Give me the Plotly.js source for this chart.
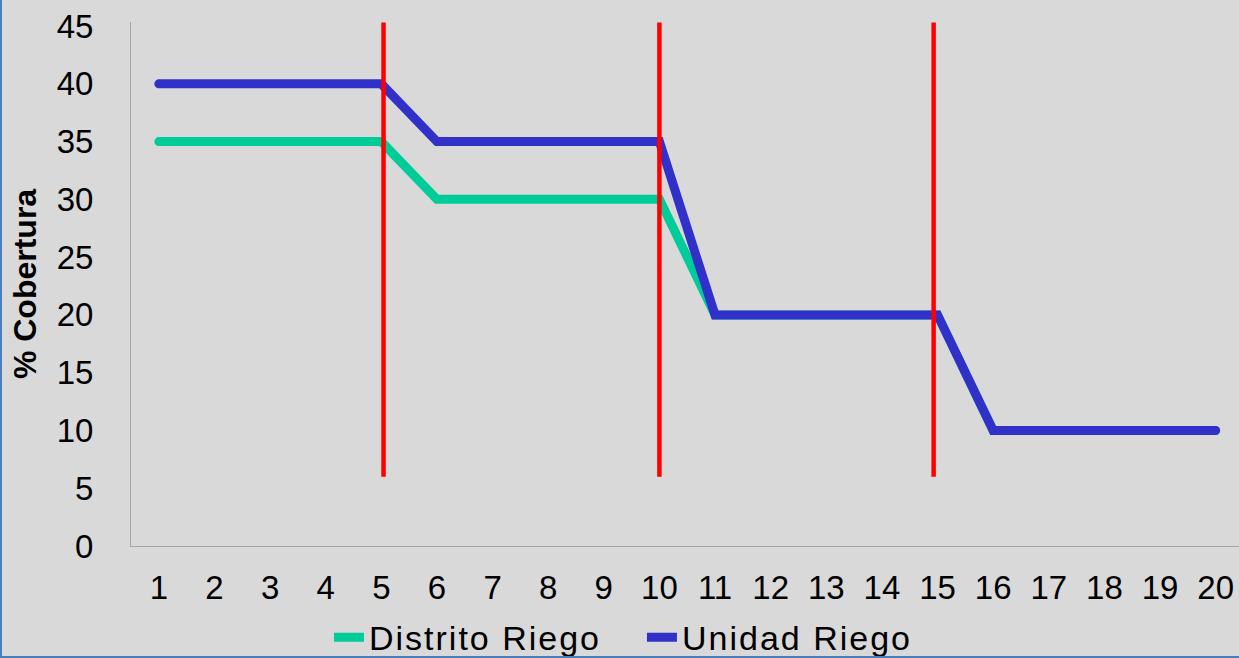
<!DOCTYPE html>
<html>
<head>
<meta charset="utf-8">
<script src="https://cdn.plot.ly/plotly-3.0.1.min.js"></script>
<style>
  html, body { margin: 0; padding: 0; background: #d9d9d9; }
  #wrap { position: relative; width: 1239px; height: 658px; overflow: hidden; }
  #chart { width: 1239px; height: 658px; }
  #frame { position: absolute; left: 0; top: 0; width: 1239px; height: 658px; box-sizing: border-box;
           border-left: 2px solid #4a7ebb; border-bottom: 2px solid #4a7ebb; pointer-events: none; }
  .scatterlayer path.js-line { stroke-linecap: round; }
  .legendtext { letter-spacing: 2px; }
</style>
</head>
<body>
<div id="wrap"><div id="chart"></div><div id="frame"></div></div>
<script>
// Categories (x axis)
const categories = [1,2,3,4,5,6,7,8,9,10,11,12,13,14,15,16,17,18,19,20];
// Series values (% Cobertura)
const distritoRiego = [35,35,35,35,35,30,30,30,30,30,20,20,20,20,20,10,10,10,10,10];
const unidadRiego   = [40,40,40,40,40,35,35,35,35,35,20,20,20,20,20,10,10,10,10,10];
// Red vertical separators (x position, y start, y end)
const separatorX = [5.04, 10, 14.93];
const separatorY0 = 6;
const separatorY1 = 45.3;
// Y tick values
const yTicks = [0,5,10,15,20,25,30,35,40,45];

const FONT = 'Liberation Sans, Arial, sans-serif';

const traces = [
  { x: categories, y: distritoRiego, name: 'Distrito Riego', mode: 'lines',
    line: { color: '#00cc99', width: 9 } },
  { x: categories, y: unidadRiego, name: 'Unidad Riego', mode: 'lines',
    line: { color: '#3131c9', width: 9 } }
];

const shapes = separatorX.map(xv => ({
  type: 'line', xref: 'x', yref: 'y', x0: xv, x1: xv, y0: separatorY0, y1: separatorY1,
  line: { color: '#ff0000', width: 4.5 }, layer: 'above'
}));

const layout = {
  width: 1239, height: 658,
  margin: { l: 131, r: 0, t: 22, b: 112 },
  paper_bgcolor: '#d9d9d9', plot_bgcolor: '#d9d9d9',
  font: { family: FONT, color: '#000000', size: 33 },
  showlegend: true,
  legend: { orientation: 'h', xref: 'container', yref: 'container', x: 0.2655, y: 0.031, xanchor: 'left', yanchor: 'middle',
            font: { family: FONT, size: 34, color: '#000' }, entrywidth: 268, entrywidthmode: 'pixels',
            bgcolor: 'rgba(0,0,0,0)' },
  xaxis: { range: [0.5, 20.42], tickvals: categories, ticktext: categories.map(String),
           showgrid: false, zeroline: false, showline: true, linecolor: '#a6a6a6', linewidth: 1,
           ticks: '', ticklabelstandoff: 12, tickfont: { size: 33 }, fixedrange: true },
  yaxis: { range: [0, 45.35], tickvals: yTicks, showgrid: false, zeroline: false,
           showline: true, linecolor: '#a6a6a6', linewidth: 1, ticks: '', ticklabelstandoff: 30,
           tickfont: { size: 33 },
           title: { text: '<b>% Cobertura</b>', font: { family: FONT, size: 32, color: '#000' }, standoff: 10 } },
  shapes: shapes
};

Plotly.newPlot('chart', traces, layout, { displayModeBar: false, staticPlot: true });
</script>
</body>
</html>
